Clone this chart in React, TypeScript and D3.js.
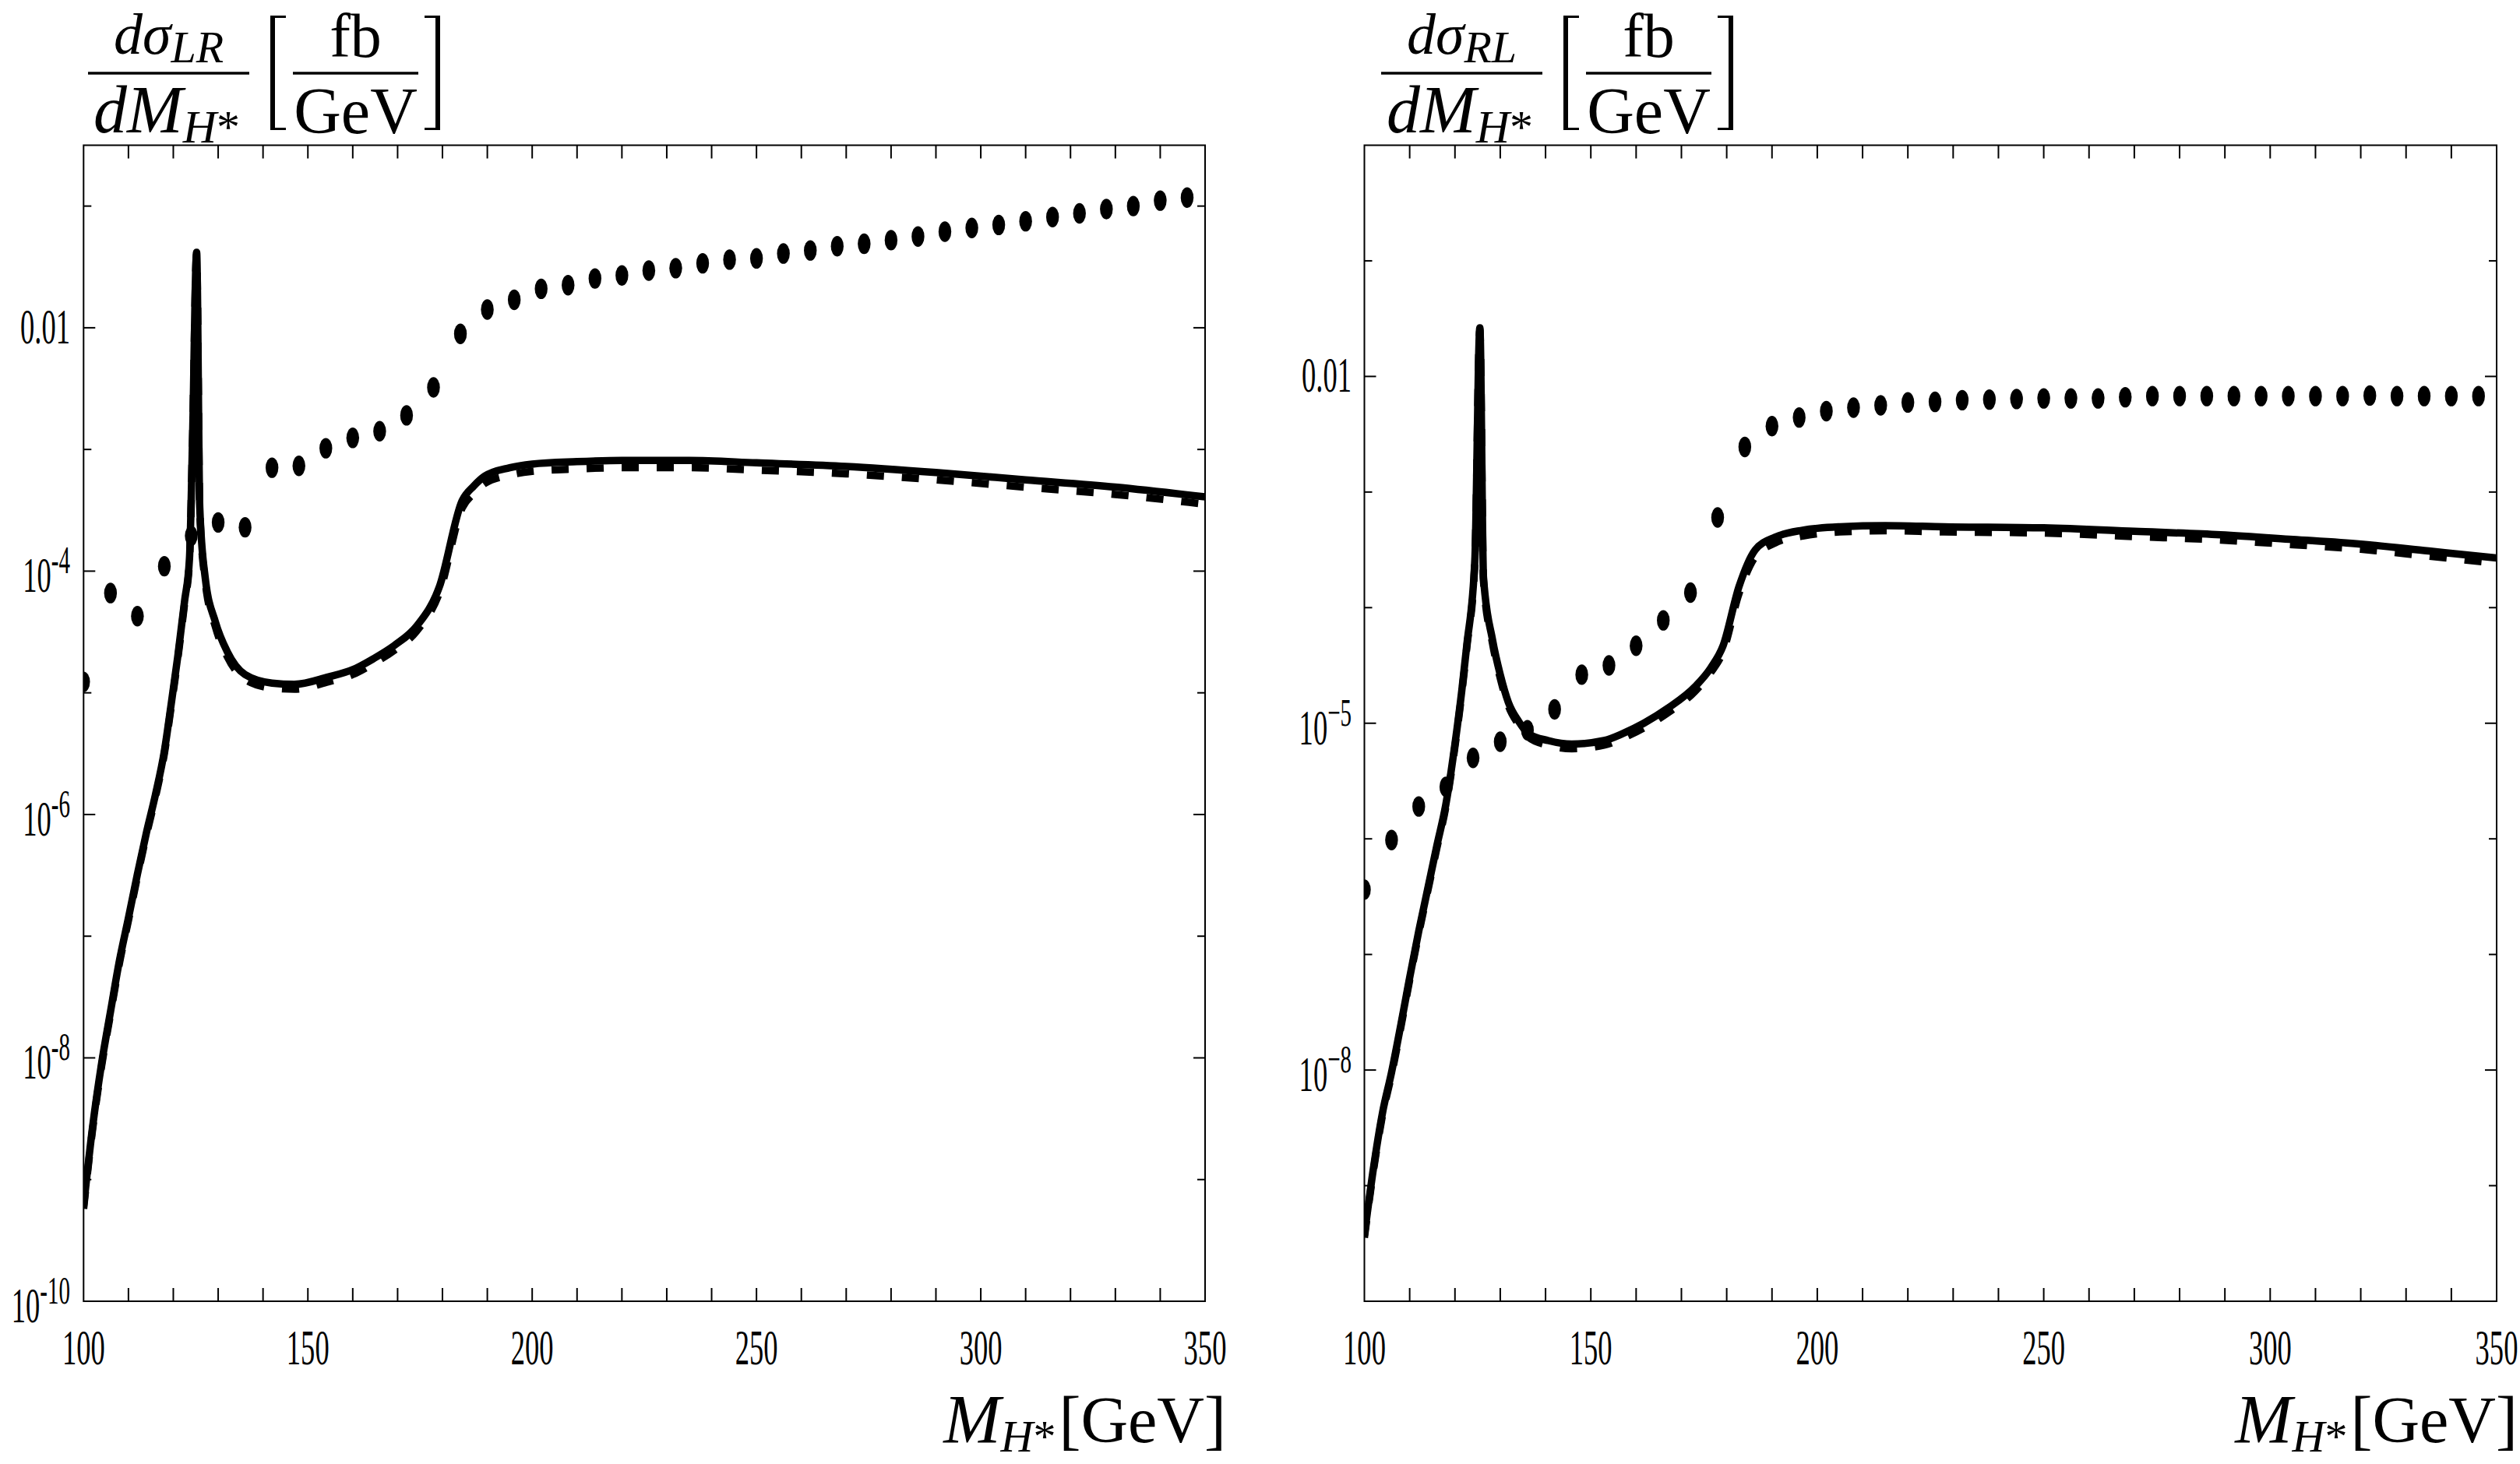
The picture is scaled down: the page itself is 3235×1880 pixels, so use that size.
import * as d3 from 'd3'

// M_H* values of the dotted series (GeV)
const dotMass = [100, 106, 112, 118, 124, 130, 136, 142, 148, 154, 160, 166, 172, 178, 184, 190, 196, 202, 208, 214, 220, 226, 232, 238, 244, 250, 256, 262, 268, 274, 280, 286, 292, 298, 304, 310, 316, 322, 328, 334, 340, 346]

// log10 of dsigma/dM [fb/GeV]
const lrDotsLog = [-4.91, -4.18, -4.37, -3.96, -3.71, -3.6, -3.64, -3.15, -3.135, -2.99, -2.905, -2.85, -2.72, -2.49, -2.05, -1.85, -1.77, -1.68, -1.65, -1.595, -1.57, -1.53, -1.51, -1.47, -1.44, -1.43, -1.39, -1.365, -1.33, -1.31, -1.28, -1.25, -1.21, -1.18, -1.155, -1.125, -1.09, -1.06, -1.025, -1.0, -0.955, -0.93]
const rlDotsLog = [-6.44, -6.01, -5.72, -5.55, -5.3, -5.16, -5.06, -4.88, -4.58, -4.5, -4.33, -4.11, -3.87, -3.22, -2.61, -2.43, -2.355, -2.3, -2.27, -2.25, -2.225, -2.22, -2.205, -2.2, -2.195, -2.19, -2.19, -2.19, -2.18, -2.17, -2.17, -2.17, -2.17, -2.17, -2.17, -2.17, -2.17, -2.165, -2.17, -2.17, -2.17, -2.17]

const lrCurveMass = [100, 102, 104, 106, 108, 110, 112, 114, 116, 118, 119.5, 121, 122.5, 123.6, 124.3, 125.2, 125.9, 127.1, 129.4, 132, 136, 142, 147, 154.5, 160, 164.6, 169.3, 174.3, 179.3, 184.4, 187, 189.4, 195, 200, 210, 220, 235, 250, 270, 290, 310, 330, 350]
const lrSolidLog = [-9.22, -8.57, -8.05, -7.62, -7.2, -6.85, -6.49, -6.15, -5.84, -5.48, -5.1, -4.7, -4.25, -3.9, -2.9, -1.38, -3.48, -4.05, -4.42, -4.66, -4.85, -4.92, -4.93, -4.87, -4.81, -4.72, -4.61, -4.45, -4.13, -3.42, -3.3, -3.22, -3.15, -3.12, -3.1, -3.09, -3.09, -3.11, -3.14, -3.19, -3.25, -3.31, -3.39]
const lrDashedLog = [-9.24, -8.59, -8.07, -7.64, -7.22, -6.87, -6.51, -6.17, -5.86, -5.5, -5.12, -4.72, -4.27, -3.92, -2.92, -1.4, -3.5, -4.08, -4.46, -4.7, -4.89, -4.96, -4.97, -4.91, -4.85, -4.76, -4.65, -4.49, -4.18, -3.48, -3.36, -3.28, -3.21, -3.18, -3.16, -3.15, -3.15, -3.17, -3.2, -3.25, -3.31, -3.37, -3.45]

const rlCurveMass = [100, 102, 104, 106, 108, 110, 112, 114, 116, 118, 120, 121.5, 122.6, 124.4, 125.5, 126.3, 128.3, 130, 131.8, 134, 136.2, 140.6, 145.8, 152.9, 157, 161.7, 167, 173.1, 176.5, 179.2, 182.7, 186.3, 190.7, 196.8, 205, 215, 228, 250, 270, 289, 305, 320, 335, 350]
const rlSolidLog = [-9.43, -8.85, -8.37, -8.02, -7.62, -7.2, -6.8, -6.43, -6.06, -5.7, -5.18, -4.72, -4.33, -3.58, -1.58, -3.74, -4.28, -4.58, -4.82, -4.98, -5.09, -5.15, -5.18, -5.15, -5.09, -5.0, -4.87, -4.68, -4.52, -4.33, -3.82, -3.5, -3.39, -3.33, -3.3, -3.29, -3.3, -3.31, -3.34, -3.37, -3.41, -3.45, -3.51, -3.57]
const rlDashedLog = [-9.45, -8.87, -8.39, -8.04, -7.64, -7.22, -6.82, -6.45, -6.08, -5.72, -5.2, -4.74, -4.35, -3.6, -1.6, -3.77, -4.31, -4.61, -4.85, -5.01, -5.12, -5.19, -5.22, -5.19, -5.13, -5.04, -4.91, -4.72, -4.56, -4.38, -3.88, -3.56, -3.44, -3.38, -3.345, -3.335, -3.345, -3.355, -3.385, -3.415, -3.455, -3.495, -3.555, -3.615]

const xTickLabels = [100, 150, 200, 250, 300, 350]
const lrYLabels = [-10, -8, -6, -4, -2]
const rlYLabels = [-8, -5, -2]

const FONT = '"Liberation Serif", "Times New Roman", serif'
const SQ = 0.58 // tick labels are horizontally condensed

type Pt = [number, number]
const pts = (mass: number[], logs: number[]): Pt[] => mass.map((m, i) => [m, Math.pow(10, logs[i])])

interface PanelProps {
  id: string
  x0: number
  x1: number
  y0: number
  y1: number
  yMaxExp: number
  labelExps: number[]
  minus: string
  labelEnd: number
  dots: Pt[]
  solid: Pt[]
  dashed: Pt[]
  sub: string
  titleShift: number
}

function Panel(p: PanelProps) {
  const x = d3.scaleLinear().domain([100, 350]).range([p.x0, p.x1])
  const y = d3.scaleLog().domain([1e-10, Math.pow(10, p.yMaxExp)]).range([p.y1, p.y0])
  const line = d3.line<Pt>()
    .x(d => x(d[0]))
    .y(d => y(d[1]))
    .curve(d3.curveMonotoneX)

  const xMinor = d3.range(110, 350, 10)
  const yDecades = d3.range(-9, Math.ceil(p.yMaxExp))
  const t = p.titleShift

  return (
    <g>
      <defs>
        <clipPath id={p.id}>
          <rect x={p.x0} y={p.y0} width={p.x1 - p.x0} height={p.y1 - p.y0} />
        </clipPath>
      </defs>

      {/* frame */}
      <rect x={p.x0} y={p.y0} width={p.x1 - p.x0} height={p.y1 - p.y0} fill="none" stroke="#000" strokeWidth={2} />

      {/* x ticks, bottom and top */}
      {xMinor.map(v => (
        <g key={'xt' + v}>
          <line x1={x(v)} x2={x(v)} y1={p.y1} y2={p.y1 - 17} stroke="#000" strokeWidth={2} />
          <line x1={x(v)} x2={x(v)} y1={p.y0} y2={p.y0 + 17} stroke="#000" strokeWidth={2} />
        </g>
      ))}

      {/* y ticks, left and right */}
      {yDecades.map(e => {
        const len = p.labelExps.includes(e) ? 15 : 10
        const yy = y(Math.pow(10, e))
        return (
          <g key={'yt' + e}>
            <line x1={p.x0} x2={p.x0 + len} y1={yy} y2={yy} stroke="#000" strokeWidth={2} />
            <line x1={p.x1} x2={p.x1 - len} y1={yy} y2={yy} stroke="#000" strokeWidth={2} />
          </g>
        )
      })}

      {/* x tick labels */}
      {xTickLabels.map(v => (
        <text key={'xl' + v} transform={`translate(${x(v)},1752) scale(${SQ},1)`} textAnchor="middle"
          fontFamily={FONT} fontSize={63}>{v}</text>
      ))}

      {/* y tick labels */}
      {p.labelExps.map(e => {
        const yy = y(Math.pow(10, e))
        if (e === -2) {
          return (
            <text key={'yl' + e} transform={`translate(${p.labelEnd},${yy + 20}) scale(${SQ},1)`} textAnchor="end"
              fontFamily={FONT} fontSize={63}>0.01</text>
          )
        }
        return (
          <text key={'yl' + e} transform={`translate(${p.labelEnd},${yy + 27}) scale(${SQ},1)`} textAnchor="end"
            fontFamily={FONT} fontSize={63}>
            10<tspan fontSize={50} dy={-24}>{p.minus + String(-e)}</tspan>
          </text>
        )
      })}

      {/* curves and dots */}
      <g clipPath={`url(#${p.id})`}>
        <path d={line(p.dashed) ?? ''} fill="none" stroke="#000" strokeWidth={9.5} strokeDasharray="22 23" />
        <path d={line(p.solid) ?? ''} fill="none" stroke="#000" strokeWidth={9.5} strokeLinejoin="miter" />
        {p.dots.map((d, i) => (
          <ellipse key={'d' + i} cx={x(d[0])} cy={y(d[1])} rx={8.2} ry={13.2} fill="#000" />
        ))}
      </g>

      {/* x axis label */}
      <text x={p.x1 + 27} y={1852} textAnchor="end" fontFamily={FONT} fontSize={88}>
        <tspan fontStyle="italic">M</tspan>
        <tspan fontStyle="italic" fontSize={58} dy={12}>H</tspan>
        <tspan fontSize={58}>*</tspan>
        <tspan fontSize={84} dy={-12} dx={4}>[GeV]</tspan>
      </text>

      {/* y axis title */}
      <g fontFamily={FONT}>
        <text x={216.5 + t} y={69} textAnchor="middle" fontSize={74}>
          <tspan fontStyle="italic">dσ</tspan>
          <tspan fontStyle="italic" fontSize={58} dy={11}>{p.sub}</tspan>
        </text>
        <line x1={113 + t} x2={320 + t} y1={94} y2={94} stroke="#000" strokeWidth={3.5} />
        <text x={214 + t} y={170} textAnchor="middle" fontSize={86}>
          <tspan fontStyle="italic">dM</tspan>
          <tspan fontStyle="italic" fontSize={60} dy={13}>H</tspan>
          <tspan fontSize={60}>*</tspan>
        </text>

        <path d={`M${347 + t},20 h20 v3 h-14 v141 h14 v3 h-20 z`} fill="#000" />
        <text x={456.5 + t} y={73} textAnchor="middle" fontSize={80}>fb</text>
        <line x1={376 + t} x2={537 + t} y1={94} y2={94} stroke="#000" strokeWidth={3.5} />
        <text x={456.5 + t} y={171} textAnchor="middle" fontSize={84}>GeV</text>
        <path d={`M${565 + t},20 h-20 v3 h14 v141 h-14 v3 h20 z`} fill="#000" />
      </g>
    </g>
  )
}

export default function App() {
  return (
    <svg width={3235} height={1880} style={{ position: 'absolute', left: 0, top: 0, background: '#fff' }}>
      <Panel
        id="clipLR"
        x0={107.3} x1={1547} y0={186.5} y1={1671}
        yMaxExp={-0.5}
        labelExps={lrYLabels}
        minus="-"
        labelEnd={90}
        dots={pts(dotMass, lrDotsLog)}
        solid={pts(lrCurveMass, lrSolidLog)}
        dashed={pts(lrCurveMass, lrDashedLog)}
        sub="LR"
        titleShift={0}
      />
      <Panel
        id="clipRL"
        x0={1751.5} x1={3205} y0={186.5} y1={1671}
        yMaxExp={0}
        labelExps={rlYLabels}
        minus="−"
        labelEnd={1735}
        dots={pts(dotMass, rlDotsLog)}
        solid={pts(rlCurveMass, rlSolidLog)}
        dashed={pts(rlCurveMass, rlDashedLog)}
        sub="RL"
        titleShift={1660}
      />
    </svg>
  )
}
